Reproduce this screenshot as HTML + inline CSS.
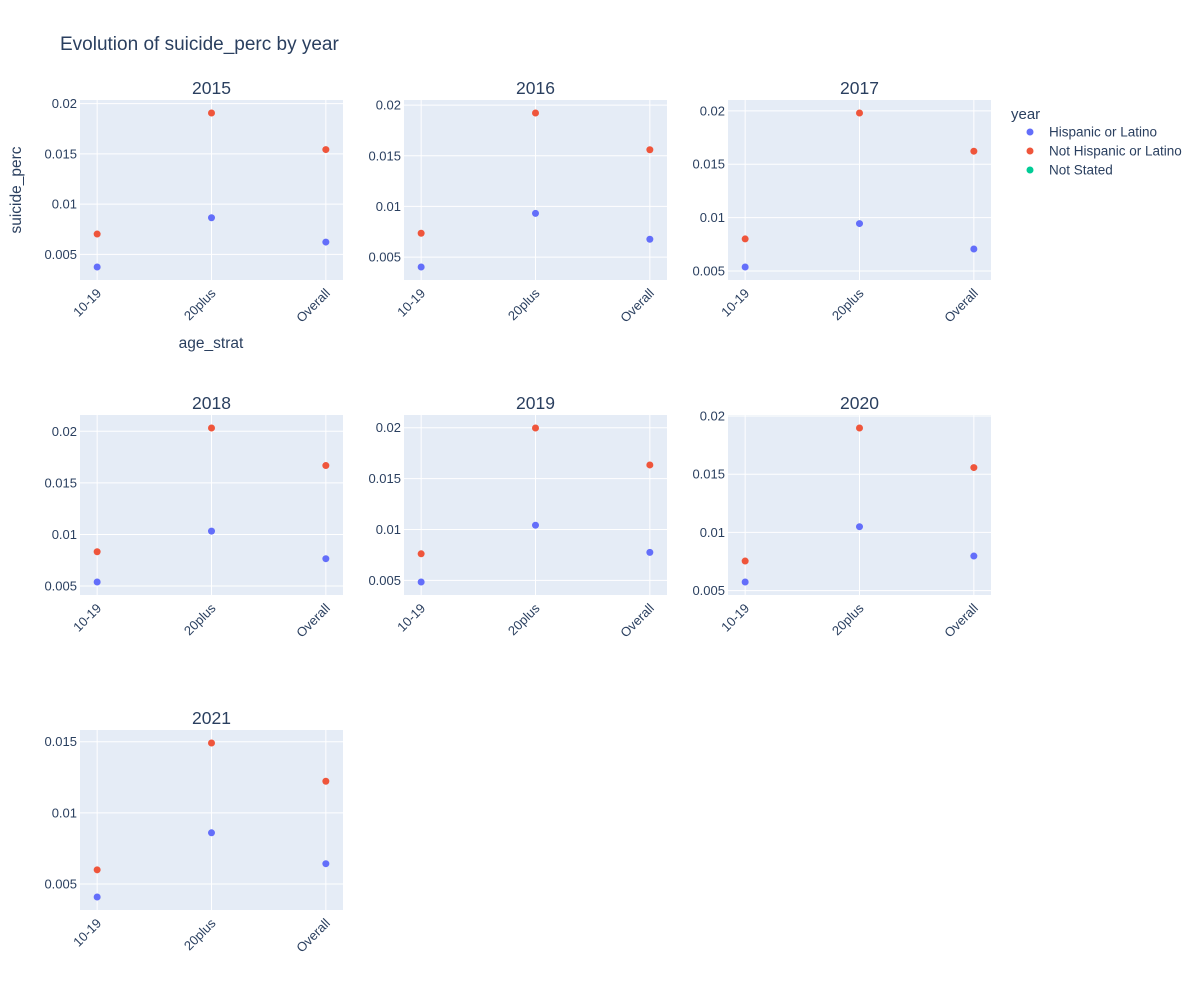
<!DOCTYPE html>
<html><head><meta charset="utf-8"><style>
body{margin:0;background:#fff;}
svg{font-family:"Liberation Sans",Arial,sans-serif;}
</style></head><body>
<svg id="chart" width="1200" height="990" xmlns="http://www.w3.org/2000/svg">
<text x="60" y="50" font-size="19" fill="#2a3f5f">Evolution of suicide_perc by year</text>
<text transform="translate(21,190) rotate(-90)" text-anchor="middle" font-size="15.5" fill="#2a3f5f">suicide_perc</text>
<text x="211" y="348" text-anchor="middle" font-size="15.5" fill="#2a3f5f">age_strat</text>
<g>
<text x="1011" y="119" font-size="15" fill="#2a3f5f">year</text>
<g><circle cx="1030" cy="132" r="3.5" fill="#636efa"/><text x="1049" y="136.5" font-size="13.5" fill="#2a3f5f">Hispanic or Latino</text></g>
<g><circle cx="1030" cy="151" r="3.5" fill="#EF553B"/><text x="1049" y="155.5" font-size="13.5" fill="#2a3f5f">Not Hispanic or Latino</text></g>
<g><circle cx="1030" cy="170" r="3.5" fill="#00cc96"/><text x="1049" y="174.5" font-size="13.5" fill="#2a3f5f">Not Stated</text></g>
</g>
</svg>
<script>
const years = ["2015","2016","2017","2018","2019","2020","2021"];
const categories = ["10-19","20plus","Overall"];
const hispanic = [
  [0.00374,0.00864,0.00622],
  [0.00402,0.00931,0.00676],
  [0.00537,0.00944,0.00706],
  [0.00539,0.01032,0.00765],
  [0.00484,0.01042,0.00775],
  [0.00574,0.01049,0.00797],
  [0.00409,0.00860,0.00643]
];
const notHispanic = [
  [0.00702,0.01907,0.01543],
  [0.00735,0.01922,0.01559],
  [0.00800,0.01980,0.01622],
  [0.00832,0.02032,0.01668],
  [0.00761,0.01997,0.01634],
  [0.00754,0.01897,0.01557],
  [0.00600,0.01491,0.01222]
];
const NS="http://www.w3.org/2000/svg";
const svg=document.getElementById('chart');
function mk(tag,attrs,parent){const e=document.createElementNS(NS,tag);for(const k in attrs)e.setAttribute(k,attrs[k]);(parent||svg).appendChild(e);return e;}
const colX=[80,404,728], rowY=[100,415,730], W=263, H=180, PAD=13;
function fmt(v){return String(parseFloat(v.toFixed(4)));}
years.forEach((yr,i)=>{
  const x0=colX[i%3], y0=rowY[Math.floor(i/3)];
  const g=mk('g',{});
  
  
  const bg=mk('rect',{x:x0,y:y0,width:W,height:H,fill:'#e5ecf6'},g);
  
  
  const all=hispanic[i].concat(notHispanic[i]);
  const mn=Math.min(...all), mx=Math.max(...all);
  const yS=v=>y0+H-PAD-(v-mn)/(mx-mn)*(H-2*PAD);
  const vmin=mn-(mx-mn)*PAD/(H-2*PAD), vmax=mx+(mx-mn)*PAD/(H-2*PAD);
  const xS=j=>x0+W*(j+0.15)/2.3;
  for(let t=Math.ceil(vmin/0.005)*0.005;t<=vmax+1e-9;t+=0.005){
    const y=yS(t);
    mk('line',{x1:x0,x2:x0+W,y1:y,y2:y,stroke:'#fff','stroke-width':1},g);
    const tl=mk('text',{x:x0-3,y:y+4.5,'text-anchor':'end','font-size':13,fill:'#2a3f5f'},g);
    tl.textContent=fmt(t);
    
    
  }
  categories.forEach((c,j)=>{
    const x=xS(j);
    mk('line',{x1:x,x2:x,y1:y0,y2:y0+H,stroke:'#fff','stroke-width':1},g);
    const tl=mk('text',{transform:`translate(${x+5},${y0+H+14}) rotate(-45)`,'text-anchor':'end','font-size':13,fill:'#2a3f5f'},g);
    tl.textContent=c;
    
    
  });
  const tt=mk('text',{x:x0+W/2,y:y0-6,'text-anchor':'middle','font-size':17.5,fill:'#2a3f5f'},g);
  tt.textContent=yr;
  
  
  [[hispanic,'#636efa','hispanic'],[notHispanic,'#EF553B','not-hispanic']].forEach(([arr,col,nm])=>{
    arr[i].forEach((v,j)=>{
      const p=mk('circle',{cx:xS(j),cy:yS(v),r:3.5,fill:col},g);
      
      
    });
  });
});
</script>
</body></html>
